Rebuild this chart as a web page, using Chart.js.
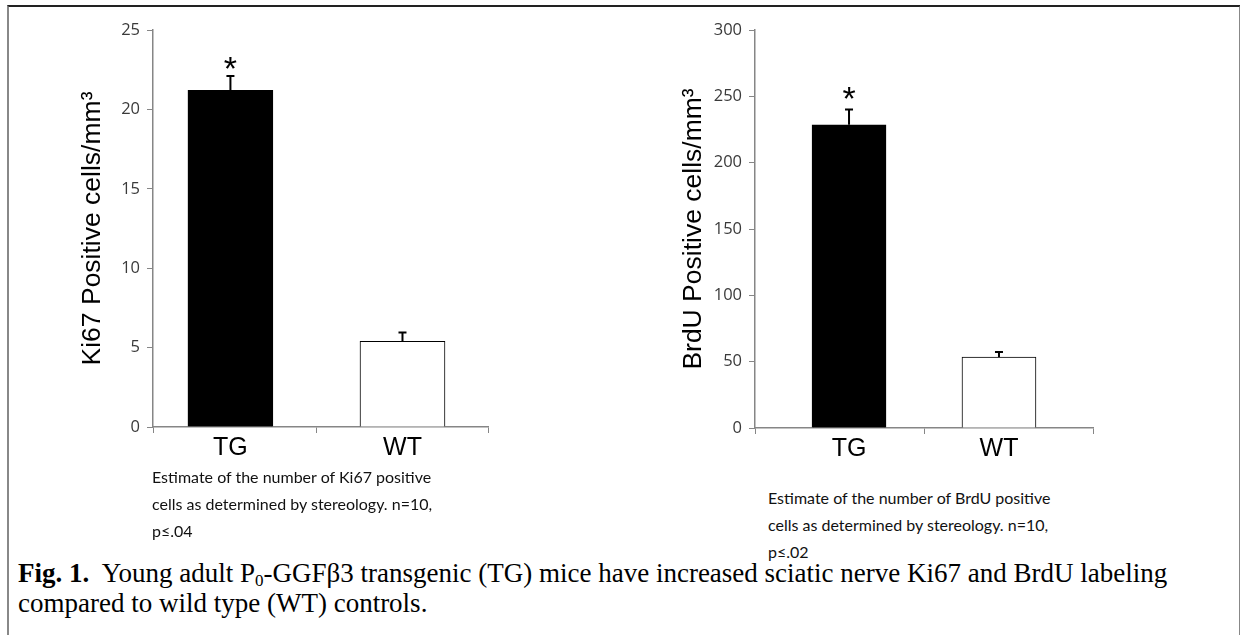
<!DOCTYPE html>
<html>
<head>
<meta charset="utf-8">
<script src="https://cdn.jsdelivr.net/npm/chart.js@4/dist/chart.umd.min.js"></script>
<style>
  html, body { margin: 0; padding: 0; background: #fff; }
  body { width: 1240px; height: 635px; position: relative; overflow: hidden; }
  .frame { position: absolute; left: 7px; top: 5px; width: 1230px; height: 640px;
           border-top: 2px solid #222; border-left: 2px solid #888; border-right: 2px solid #888; }
  .plot { position: absolute; top: 0; width: 620px; height: 470px; }
  .note { position: absolute; font-family: Lato, "Open Sans", sans-serif; font-size: 16px;
          line-height: 27px; color: #111; white-space: nowrap; }
  .fig { position: absolute; left: 18px; top: 558px; font-family: "Liberation Serif", serif;
         font-size: 27px; line-height: 30px; color: #000; white-space: nowrap; }
  .fig sub { font-size: 17px; vertical-align: -4px; line-height: 0; }
</style>
</head>
<body>
<div class="frame"></div>
<div class="plot" style="left:0"><canvas id="chartKi67" width="620" height="470"></canvas></div>
<div class="plot" style="left:620px"><canvas id="chartBrdU" width="620" height="470"></canvas></div>

<div class="note" style="left:152px; top:463px;">Estimate of the number of Ki67 positive<br>cells as determined by stereology. n=10,<br>p≤.04</div>
<div class="note" style="left:768px; top:484px;">Estimate of the number of BrdU positive<br>cells as determined by stereology. n=10,<br>p≤.02</div>
<div class="fig"><b>Fig. 1.</b>&nbsp; Young adult P<sub>0</sub>-GGFβ3 transgenic (TG) mice have increased sciatic nerve Ki67 and BrdU labeling<br>compared to wild type (WT) controls.</div>

<script>
const categories = ["TG", "WT"];
const ki67Means = [21.2, 5.4];
const ki67Errors = [0.9, 0.55];
const brduMeans = [228.5, 53.5];
const brduErrors = [11.5, 3.8];
const marks = ["*", ""];

// error bars (upper half only) and the significance star
const errorBars = {
  id: "errorBars",
  afterDatasetsDraw(chart, args, opts) {
    const ctx = chart.ctx;
    const yScale = chart.scales.y;
    const meta = chart.getDatasetMeta(0);
    meta.data.forEach((bar, i) => {
      const top = yScale.getPixelForValue(opts.means[i] + opts.errors[i]);
      ctx.save();
      ctx.strokeStyle = "#000";
      ctx.lineWidth = 2;
      ctx.beginPath();
      ctx.moveTo(bar.x, bar.y);
      ctx.lineTo(bar.x, top);
      ctx.moveTo(bar.x - 4, top);
      ctx.lineTo(bar.x + 4, top);
      ctx.stroke();
      if (marks[i]) {
        ctx.fillStyle = "#000";
        ctx.font = "34px 'Liberation Sans', Arial, sans-serif";
        ctx.textAlign = "center";
        ctx.textBaseline = "alphabetic";
        ctx.fillText(marks[i], bar.x, top - opts.starGap);
      }
      ctx.restore();
    });
  },
};

function makeChart(id, means, errors, opt) {
  const points = means.map((v, i) => ({ x: i, y: v }));
  const lo = -opt.edgeLeft;
  const hi = categories.length - 1 + opt.edgeRight;
  return new Chart(document.getElementById(id), {
    type: "bar",
    data: {
      datasets: [{
        data: points,
        backgroundColor: ["#000000", "#ffffff"],
        borderColor: "#000000",
        borderWidth: 1,
        barThickness: opt.barWidth,
      }],
    },
    options: {
      responsive: false,
      animation: false,
      events: [],
      layout: { padding: { top: 30, left: 0, right: opt.padRight, bottom: opt.padBottom } },
      plugins: {
        legend: { display: false },
        tooltip: { enabled: false },
        errorBars: { means: means, errors: errors, starGap: opt.starGap },
      },
      scales: {
        x: {
          type: "linear",
          offset: false,
          min: lo, max: hi,
          afterFit(scale) { scale.height = 40; },
          afterBuildTicks(scale) {
            scale.ticks = [lo, 0, 0.5, 1, hi].map((v) => ({ value: v }));
          },
          grid: {
            offset: false, drawOnChartArea: false, tickLength: 6,
            tickColor: (c) => (c.tick && Number.isInteger(c.tick.value) ? "rgba(0,0,0,0)" : "#868686"),
          },
          border: { color: "#868686", width: 1.5 },
          ticks: {
            color: "#000", padding: 0, autoSkip: false, maxRotation: 0,
            font: { family: "'Liberation Sans', Arial", size: 25 },
            callback: (v) => (Number.isInteger(v) && categories[v] ? categories[v] : ""),
          },
        },
        y: {
          min: 0, max: opt.max,
          afterFit(scale) { scale.width = opt.axisLeft; },
          grid: { drawOnChartArea: false, tickLength: 6, color: "#868686" },
          border: { color: "#868686", width: 1.5 },
          ticks: { stepSize: opt.step, color: "#3a3a3a", padding: 7,
                   font: { family: "'Open Sans', sans-serif", size: 16.5 } },
          title: {
            display: true, text: opt.title, color: "#000",
            padding: { top: opt.titlePad, bottom: 0 },
            font: { family: "'Liberation Sans', Arial", size: 26.5 },
          },
        },
      },
    },
    plugins: [errorBars],
  });
}

makeChart("chartKi67", ki67Means, ki67Errors, {
  max: 25, step: 5, title: "Ki67 Positive cells/mm³", edgeLeft: 0.45, edgeRight: 0.497, barWidth: 85,
  axisLeft: 153, padRight: 132, padBottom: 3, titlePad: 77, starGap: -4,
});
makeChart("chartBrdU", brduMeans, brduErrors, {
  max: 300, step: 50, title: "BrdU Positive cells/mm³", edgeLeft: 0.627, edgeRight: 0.627, barWidth: 74,
  axisLeft: 135, padRight: 147, padBottom: 2, titlePad: 58, starGap: 0,
});
</script>
</body>
</html>
